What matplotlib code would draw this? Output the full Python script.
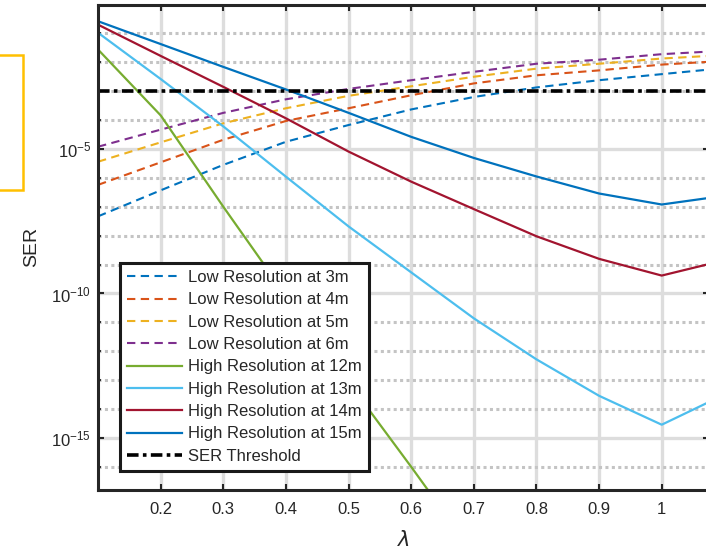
import matplotlib
matplotlib.use("Agg")
import matplotlib.pyplot as plt
from matplotlib.patches import Rectangle
from matplotlib.ticker import FixedLocator, FormatStrFormatter, LogFormatterSciNotation, NullFormatter
import numpy as np

plt.rcParams['font.family'] = ['Liberation Sans', 'DejaVu Sans']

# lambda sample points
lam = [0.1, 0.2, 0.3, 0.4, 0.5, 0.6, 0.7, 0.8, 0.9, 1.0, 1.1]
lam_hr12 = [0.1, 0.2, 0.3, 0.4, 0.5, 0.6, 0.7]

# low resolution curves (SER)
ser_lr3 = [4.68e-8, 3.72e-7, 2.82e-6, 1.78e-5, 6.76e-5, 2.34e-4, 6.31e-4, 1.35e-3, 2.40e-3, 3.89e-3, 6.31e-3]
ser_lr4 = [5.75e-7, 3.47e-6, 2.09e-5, 9.33e-5, 2.57e-4, 7.24e-4, 1.86e-3, 3.55e-3, 5.25e-3, 8.32e-3, 1.12e-2]
ser_lr5 = [3.63e-6, 1.70e-5, 7.76e-5, 2.57e-4, 6.92e-4, 1.48e-3, 3.16e-3, 6.03e-3, 8.91e-3, 1.35e-2, 1.78e-2]
ser_lr6 = [1.20e-5, 4.68e-5, 1.78e-4, 5.25e-4, 1.20e-3, 2.40e-3, 4.68e-3, 8.91e-3, 1.23e-2, 1.91e-2, 2.51e-2]

# high resolution curves (SER)
ser_hr12 = [2.75e-2, 1.45e-4, 1.0e-7, 8.51e-11, 8.51e-14, 1.0e-16, 1.0e-19]
ser_hr13 = [1.05e-1, 2.63e-3, 6.03e-5, 1.10e-6, 2.09e-8, 5.37e-10, 1.38e-11, 5.25e-13, 2.88e-14, 2.88e-15, 3.16e-14]
ser_hr14 = [2.0e-1, 1.66e-2, 1.41e-3, 1.15e-4, 8.13e-6, 7.41e-7, 8.32e-8, 9.55e-9, 1.58e-9, 4.17e-10, 1.41e-9]
ser_hr15 = [2.63e-1, 4.27e-2, 6.92e-3, 1.15e-3, 1.78e-4, 2.63e-5, 4.90e-6, 1.12e-6, 2.88e-7, 1.20e-7, 2.40e-7]

ser_threshold = 1e-3

labels = ["Low Resolution at 3m", "Low Resolution at 4m", "Low Resolution at 5m",
          "Low Resolution at 6m", "High Resolution at 12m", "High Resolution at 13m",
          "High Resolution at 14m", "High Resolution at 15m", "SER Threshold"]

x_ticks = [0.2, 0.3, 0.4, 0.5, 0.6, 0.7, 0.8, 0.9, 1.0]
y_major = [1e-15, 1e-10, 1e-5]

W, H = 706, 549
fig = plt.figure(figsize=(W / 100, H / 100), dpi=100)

# Axes placed in pixels; the right edge runs just past the image border.
left_px, right_px, top_px, bot_px = 98.1, 709.0, 4.5, 490.0
ax = fig.add_axes([left_px / W, 1 - bot_px / H, (right_px - left_px) / W, (bot_px - top_px) / H])
ax.set_yscale('log')
ax.set_xlim(0.1, 1.0755)
ax.set_ylim(10 ** -16.8, 1)

dash = (4, 2.6)
ax.plot(lam, ser_lr3, color='#0072BD', lw=1.5, dashes=dash, label=labels[0])
ax.plot(lam, ser_lr4, color='#D95319', lw=1.5, dashes=dash, label=labels[1])
ax.plot(lam, ser_lr5, color='#EDB120', lw=1.5, dashes=dash, label=labels[2])
ax.plot(lam, ser_lr6, color='#7E2F8E', lw=1.5, dashes=dash, label=labels[3])
ax.plot(lam_hr12, ser_hr12, color='#77AC30', lw=1.6, label=labels[4])
ax.plot(lam, ser_hr13, color='#4DBEEE', lw=1.6, label=labels[5])
ax.plot(lam, ser_hr14, color='#A2142F', lw=1.6, label=labels[6])
ax.plot(lam, ser_hr15, color='#0072BD', lw=1.6, label=labels[7])
ax.axhline(ser_threshold, color='black', lw=2.6, dashes=(3.2, 1.2, 1.0, 1.2), label=labels[8])

# Ticks
ax.xaxis.set_major_locator(FixedLocator(x_ticks))
ax.xaxis.set_major_formatter(FormatStrFormatter('%g'))
ax.yaxis.set_major_locator(FixedLocator(y_major))
ax.yaxis.set_major_formatter(LogFormatterSciNotation())
ax.yaxis.set_minor_locator(FixedLocator([10.0 ** -k for k in range(1, 17) if k % 5 != 0]))
ax.yaxis.set_minor_formatter(NullFormatter())
ax.tick_params(which='major', direction='in', length=4.5, width=1.5, top=True, right=True,
               labelsize=12, labelcolor='#262626', color='#262626')
ax.tick_params(axis='x', which='major', pad=9)
ax.tick_params(axis='y', which='major', pad=5)
ax.tick_params(which='minor', direction='in', length=2.5, width=1.3, left=True, right=True, color='#262626')

# Grid
ax.set_axisbelow(True)
ax.grid(True, which='major', axis='both', color='#DDDDDD', lw=2.4, ls='-')
ax.grid(True, which='minor', axis='y', color='#C4C4C4', lw=2.2, ls=(0, (1, 1.1)))

for s in ax.spines.values():
    s.set_linewidth(2.2)
    s.set_color('#262626')

ax.set_ylabel('SER', fontsize=14, color='#262626', labelpad=8)
ax.set_xlabel(r'$\lambda$', fontsize=15, color='#262626', labelpad=9)

leg = ax.legend(loc='lower left', bbox_to_anchor=(120 / W, 1 - 470.7 / H), bbox_transform=fig.transFigure,
                borderaxespad=0, fontsize=12, handlelength=3.3, handletextpad=0.35, labelspacing=0.44,
                borderpad=0.42, fancybox=False, framealpha=1, edgecolor='#1a1a1a')
leg.get_frame().set_linewidth(2.2)
for t in leg.get_texts():
    t.set_color('#262626')

# Partly visible yellow box at the left border
fig.patches.append(Rectangle((-20 / W, 1 - 190 / H), 43 / W, 135 / H, transform=fig.transFigure,
                             fill=False, edgecolor='#FFC000', lw=1.8, figure=fig))

fig.savefig('out.png', dpi=100)
